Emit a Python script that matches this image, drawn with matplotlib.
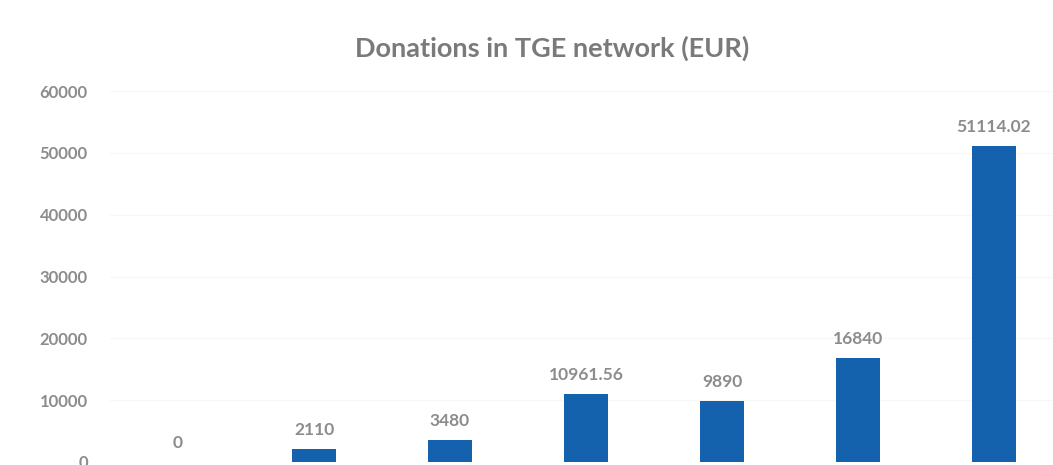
import matplotlib.pyplot as plt

# Valores
categorias = ["1", "2", "3", "4", "5", "6", "7"]
doacoes = [0, 2110, 3480, 10961.56, 9890, 16840, 51114.02]
rotulos = ["0", "2110", "3480", "10961.56", "9890", "16840", "51114.02"]
ticksY = [0, 10000, 20000, 30000, 40000, 50000, 60000]

plt.rcParams['font.family'] = ['Lato', 'DejaVu Sans']

fig = plt.figure(figsize=(10.53, 4.65), dpi=100)
ax = fig.add_axes([0.1045, 0.0065, 0.904, 0.7975])

x = range(len(categorias))
barras = ax.bar(x, doacoes, width=0.32, color="#1462ad", zorder=3)

# Rótulos acima das barras
for xi, v, r in zip(x, doacoes, rotulos):
    ax.annotate(r, (xi, v), xytext=(0, 8), textcoords="offset points",
                ha="center", va="bottom", fontsize=12.5, fontweight="bold",
                color="#8c8c8c")

ax.set_xlim(-0.5, 6.5)
ax.set_ylim(0, 60000)
ax.set_yticks(ticksY)
ax.set_yticklabels([str(t) for t in ticksY], fontsize=12, fontweight="bold",
                   color="#8c8c8c")
ax.set_xticks([])
ax.tick_params(axis="y", length=0, pad=16)
ax.grid(axis="y", color="#f6f6f6", linewidth=0.8, zorder=0)
for s in ax.spines.values():
    s.set_visible(False)

fig.text(0.524, 0.895, "Donations in TGE network (EUR)", ha="center", va="center",
         fontsize=19.5, fontweight="bold", color="#7a7a7a")

plt.savefig("out.png", dpi=100)
plt.close()
